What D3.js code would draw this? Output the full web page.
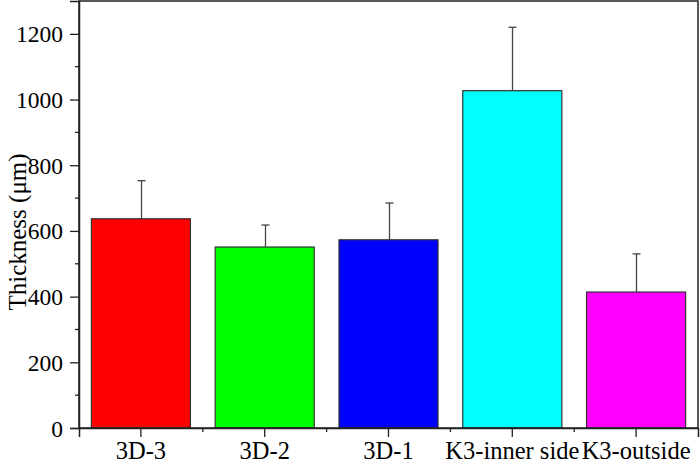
<!DOCTYPE html>
<html>
<head>
<meta charset="utf-8">
<script src="https://cdn.jsdelivr.net/npm/d3@7"></script>
<style>
  body { margin: 0; background: #fff; }
</style>
</head>
<body>
<svg id="chart" width="700" height="464"></svg>
<script>
const categories = ['3D-3', '3D-2', '3D-1', 'K3-inner side', 'K3-outside']
const thickness = [637, 551, 573, 1027, 414]
const errUpper = [753, 618, 685, 1220, 530]
const barColors = ['#ff0000', '#00ff00', '#0000ff', '#00ffff', '#ff00ff']
const yTicks = [0, 200, 400, 600, 800, 1000, 1200]

const FONT = '"Liberation Serif", "Times New Roman", serif'
const svg = d3.select('#chart')
const m = { left: 79, right: 2, top: 1, bottom: 36 }
const W = 700, H = 464

const x = d3.scaleBand()
  .domain(categories)
  .range([m.left, W - m.right])
  .paddingInner(0.2)
  .paddingOuter(0.1)

const y = d3.scaleLinear()
  .domain([0, 1300])
  .range([H - m.bottom, m.top])

// bars
svg.append('g').selectAll('rect')
  .data(categories)
  .join('rect')
  .attr('x', d => x(d))
  .attr('y', (d, i) => y(thickness[i]))
  .attr('width', x.bandwidth())
  .attr('height', (d, i) => y(0) - y(thickness[i]))
  .attr('fill', (d, i) => barColors[i])
  .attr('stroke', '#333')
  .attr('stroke-width', 1.2)

// error bars (upper only)
const eb = svg.append('g').attr('stroke', '#444').attr('stroke-width', 1.3)
categories.forEach((c, i) => {
  const cx = Math.round(x(c) + x.bandwidth() / 2) + 0.5
  eb.append('line').attr('x1', cx).attr('x2', cx)
    .attr('y1', y(thickness[i])).attr('y2', y(errUpper[i]))
  eb.append('line').attr('x1', cx - 4).attr('x2', cx + 4)
    .attr('y1', y(errUpper[i])).attr('y2', y(errUpper[i]))
})

// frame
svg.append('rect')
  .attr('x', m.left).attr('y', m.top)
  .attr('width', W - m.right - m.left).attr('height', H - m.bottom - m.top)
  .attr('fill', 'none').attr('stroke', '#222').attr('stroke-width', 1.5)

// y axis
const yAxis = svg.append('g')
  .attr('transform', `translate(${m.left},0)`)
  .call(d3.axisLeft(y).tickValues(yTicks).tickSize(9).tickPadding(7).tickFormat(d3.format('d')))
yAxis.attr('font-family', null).attr('font-size', null)
yAxis.select('.domain').attr('stroke', '#222').attr('stroke-width', 1.5)
yAxis.selectAll('.tick line').attr('stroke', '#222').attr('stroke-width', 1.3)
yAxis.selectAll('.tick text')
  .style('font-family', FONT).style('font-size', '23.5px').attr('fill', '#000').attr('dy', '0.34em')

const yMinor = d3.range(100, 1300, 200)
svg.append('g').selectAll('line')
  .data(yMinor)
  .join('line')
  .attr('x1', m.left - 4).attr('x2', m.left)
  .attr('y1', d => y(d)).attr('y2', d => y(d))
  .attr('stroke', '#222').attr('stroke-width', 1.3)

// x axis
const xAxis = svg.append('g')
  .attr('transform', `translate(0,${H - m.bottom})`)
  .call(d3.axisBottom(x).tickSize(9).tickPadding(5))
xAxis.attr('font-family', null).attr('font-size', null)
xAxis.select('.domain').attr('stroke', '#222').attr('stroke-width', 1.5)
xAxis.selectAll('.tick line').attr('stroke', '#222').attr('stroke-width', 1.3)
xAxis.selectAll('.tick text')
  .style('font-family', FONT).style('font-size', '24.5px').attr('fill', '#000')

// minor x ticks between bands
const step = x.step()
const xMinor = d3.range(1, categories.length).map(i => x(categories[i]) - step * x.paddingInner() / 2)
svg.append('g').selectAll('line')
  .data(xMinor)
  .join('line')
  .attr('x1', d => d).attr('x2', d => d)
  .attr('y1', H - m.bottom).attr('y2', H - m.bottom + 4)
  .attr('stroke', '#222').attr('stroke-width', 1.3)

// y label
svg.append('text')
  .attr('transform', `translate(26,232) rotate(-90)`)
  .attr('text-anchor', 'middle')
  .style('font-family', FONT)
  .style('font-size', '25px')
  .text('Thickness (μm)')
</script>
</body>
</html>
